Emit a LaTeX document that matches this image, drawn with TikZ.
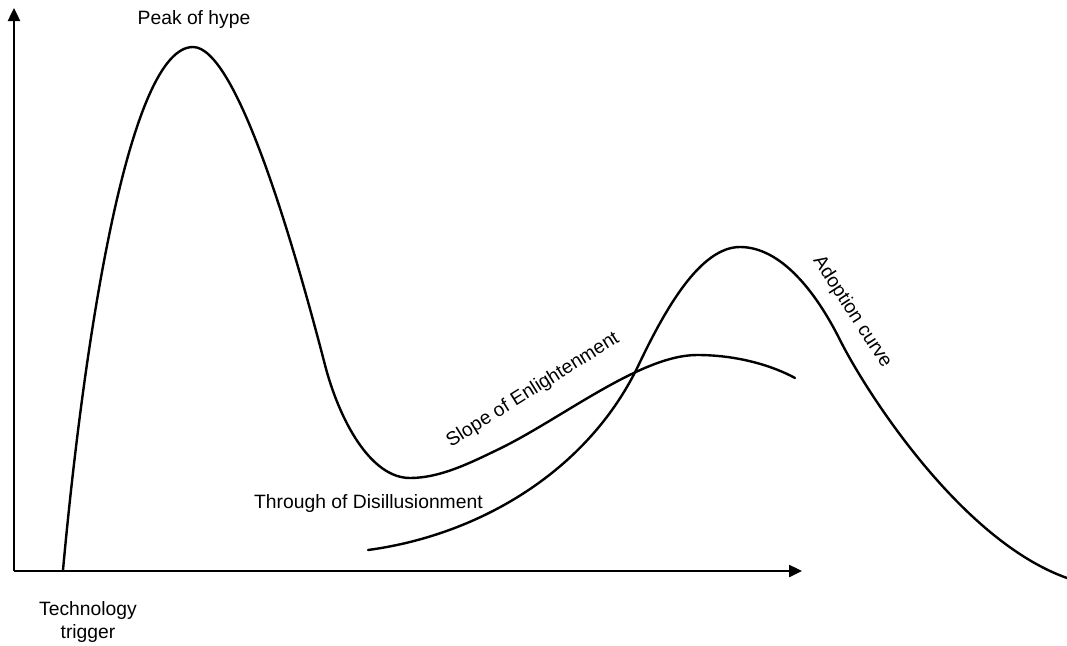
\documentclass[tikz,border=0pt]{standalone}
\usepackage{fontspec}
\setmainfont{Liberation Sans}
\usetikzlibrary{arrows.meta}
\begin{document}
\begin{tikzpicture}[x=1pt,y=-1pt,
  curve/.style={line width=2.4pt,line join=round,line cap=round},
  axis/.style={line width=2.4pt,-{Triangle[length=13pt,width=12pt]}},
  lbl/.style={font=\fontsize{19.3}{23}\selectfont,inner sep=0pt,align=center}]
\useasboundingbox (0,0) rectangle (1067,645);
\coordinate (o) at (14,571);
\coordinate (ytop) at (14,8);
\coordinate (xend) at (802,571);
\draw[axis] (o) -- (ytop);
\draw[axis] (o) -- (xend);
% hype cycle
\draw[curve] (63,570)
  .. controls (85,330) and (130,47) .. (193,47)
  .. controls (235,47) and (290,230) .. (325,365)
  .. controls (339,419) and (370,478) .. (410,478)
  .. controls (440,478) and (470,463) .. (497,450)
  .. controls (560,420) and (640,355) .. (697,355)
  .. controls (740,355) and (775,367) .. (795,378);
% adoption curve
\draw[curve] (368,550)
  .. controls (480,535) and (590,470) .. (640,362)
  .. controls (665,310) and (700,247) .. (740,247)
  .. controls (780,247) and (815,290) .. (840,340)
  .. controls (865,390) and (960,540) .. (1067,578);
\node[lbl] (peak) at (194,20) {Peak of hype};
\node[lbl] (trig) at (88,622) {Technology\\trigger};
\node[lbl,anchor=west] (trough) at (254,504) {Through of Disillusionment};
\node[lbl,rotate=32] (slope) at (533,390) {Slope of Enlightenment};
\node[lbl,rotate=-57] (adopt) at (852,312) {Adoption curve};
\end{tikzpicture}
\end{document}
